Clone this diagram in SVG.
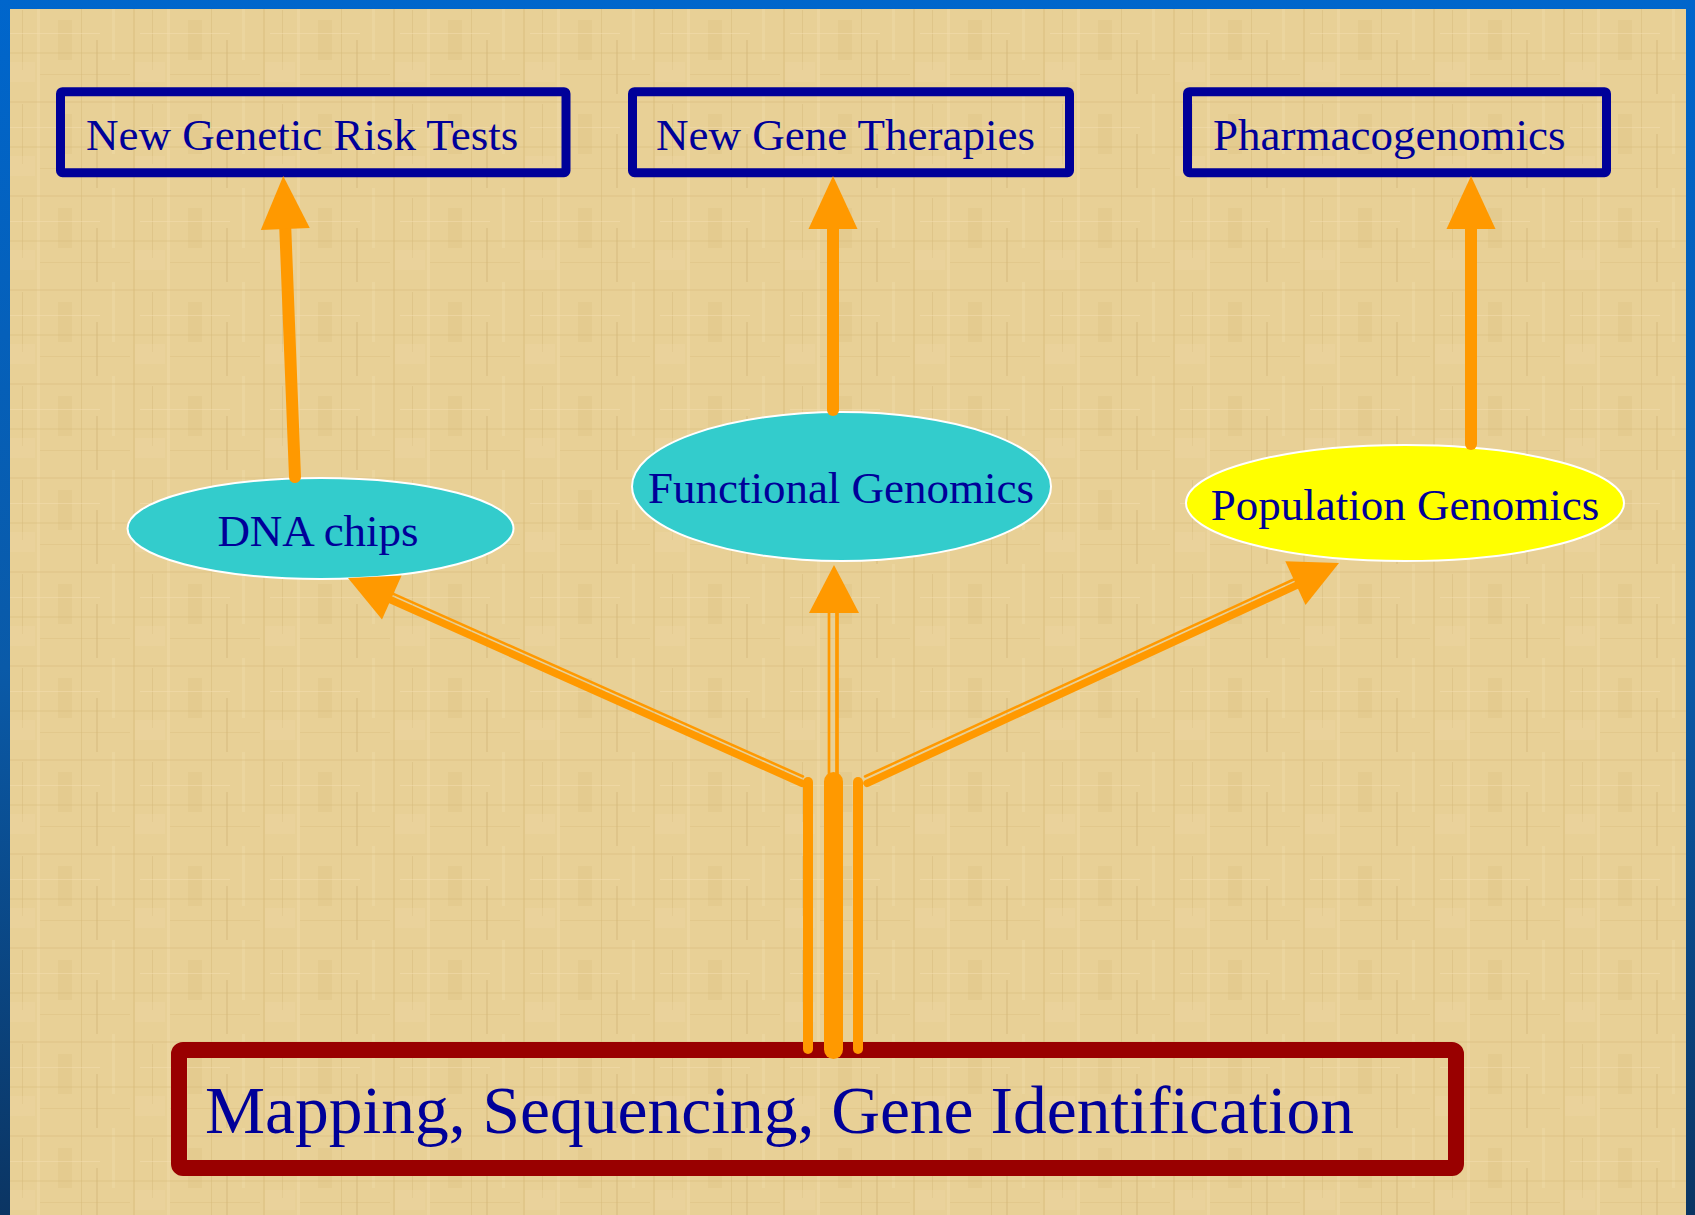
<svg xmlns="http://www.w3.org/2000/svg" width="1695" height="1215" viewBox="0 0 1695 1215">
  <defs>
    <linearGradient id="edge" x1="0" y1="0" x2="0" y2="1">
      <stop offset="0" stop-color="#0066cc"/>
      <stop offset="0.55" stop-color="#0a5aa8"/>
      <stop offset="1" stop-color="#0b3563"/>
    </linearGradient>
    <pattern id="weave" width="130" height="94" patternUnits="userSpaceOnUse">
      <rect width="130" height="94" fill="#e8d096"/>
      <rect x="3" y="0" width="2" height="94" fill="#d6b878" opacity="0.4"/>
      <rect x="22" y="10" width="1" height="60" fill="#cfb070" opacity="0.35"/>
      <rect x="37" y="0" width="3" height="94" fill="#f2dcaa" opacity="0.45"/>
      <rect x="58" y="20" width="14" height="40" fill="#d9bc7d" opacity="0.25"/>
      <rect x="81" y="0" width="1" height="94" fill="#d2b473" opacity="0.4"/>
      <rect x="96" y="40" width="2" height="54" fill="#cdb071" opacity="0.35"/>
      <rect x="112" y="0" width="3" height="60" fill="#f1dba9" opacity="0.45"/>
      <rect x="0" y="7" width="130" height="2" fill="#d8bb7c" opacity="0.3"/>
      <rect x="10" y="33" width="90" height="1" fill="#f3deaf" opacity="0.5"/>
      <rect x="0" y="52" width="130" height="2" fill="#d4b676" opacity="0.25"/>
      <rect x="40" y="74" width="90" height="1" fill="#d4b676" opacity="0.3"/>
      <rect x="5" y="62" width="30" height="20" fill="#f0d9a5" opacity="0.3"/>
    </pattern>
    <marker id="head" markerUnits="userSpaceOnUse" markerWidth="54" markerHeight="50" refX="0" refY="24.5" orient="auto" overflow="visible">
      <path d="M0,0 L53,24.5 L0,49 Z" fill="#ff9900"/>
    </marker>
  </defs>
  <style>
    .box { fill: none; stroke: #000099; stroke-width: 9; stroke-linejoin: round; }
    .lbl { font-family: "Liberation Serif", "Times New Roman", serif; font-size: 45px; fill: #000099; }
    .ell { stroke: #ffffff; stroke-width: 2; }
    .up { stroke: #ff9900; stroke-width: 12; stroke-linecap: round; fill: none; }
    .or { stroke: #ff9900; fill: none; stroke-linecap: round; }
    .hd { fill: #ff9900; }
  </style>

  <!-- background -->
  <rect x="0" y="0" width="1695" height="1215" fill="url(#edge)"/>
  <rect x="10" y="9" width="1676" height="1206" fill="url(#weave)"/>

  <g id="n-risk-tests">
    <rect class="box" x="60.5" y="91.7" width="505.5" height="81" rx="2"/>
    <text class="lbl" x="86" y="150">New Genetic Risk Tests</text>
  </g>
  <g id="n-gene-therapies">
    <rect class="box" x="632.5" y="91.7" width="437" height="81" rx="2"/>
    <text class="lbl" x="656" y="150">New Gene Therapies</text>
  </g>
  <g id="n-pharmacogenomics">
    <rect class="box" x="1187.5" y="91.7" width="419" height="81" rx="2"/>
    <text class="lbl" x="1213" y="150">Pharmacogenomics</text>
  </g>

  <g id="n-dna-chips">
    <ellipse class="ell" cx="320.5" cy="528.5" rx="193" ry="50.5" fill="#33cccc"/>
    <text class="lbl" x="318" y="546" text-anchor="middle">DNA chips</text>
  </g>
  <g id="n-functional-genomics">
    <ellipse class="ell" cx="841.5" cy="486.5" rx="209.5" ry="74.5" fill="#33cccc"/>
    <text class="lbl" x="841" y="503" text-anchor="middle">Functional Genomics</text>
  </g>
  <g id="n-population-genomics">
    <ellipse class="ell" cx="1405" cy="503" rx="219" ry="58" fill="#ffff00"/>
    <text class="lbl" x="1405" y="520" text-anchor="middle">Population Genomics</text>
  </g>

  <g id="n-mapping">
    <rect x="179" y="1050" width="1277" height="118" rx="4" fill="none" stroke="#990000" stroke-width="16"/>
    <text x="205" y="1133" font-family="Liberation Serif, Times New Roman, serif" font-size="67.5" fill="#000099">Mapping, Sequencing, Gene Identification</text>
  </g>

  <g id="connectors">
    <!-- ellipses to top boxes -->
    <line class="up" x1="295" y1="477" x2="285.3" y2="229" marker-end="url(#head)"/>
    <line class="up" x1="833" y1="410" x2="833" y2="229" marker-end="url(#head)"/>
    <line class="up" x1="1471" y1="444" x2="1471" y2="229" marker-end="url(#head)"/>

    <!-- trunk -->
    <line class="or" x1="833.5" y1="781.5" x2="833.5" y2="1049.5" stroke-width="19"/>
    <line class="or" x1="808" y1="782" x2="808" y2="1049" stroke-width="10"/>
    <line class="or" x1="858" y1="782" x2="858" y2="1049" stroke-width="10"/>

    <!-- to DNA chips -->
    <line class="or" x1="802" y1="783.3" x2="390.8" y2="599.8" stroke-width="7.5"/>
    <line class="or" x1="803" y1="776.5" x2="393.4" y2="593.8" stroke-width="2.5" stroke-linecap="butt"/>
    <polygon class="hd" points="348,578 401.6,575.6 382,619.4"/>

    <!-- to Functional Genomics -->
    <line class="or" x1="829" y1="775" x2="829" y2="612" stroke-width="2.7" stroke-linecap="butt"/>
    <line class="or" x1="837" y1="775" x2="837" y2="612" stroke-width="3.7" stroke-linecap="butt"/>
    <polygon class="hd" points="834,565 859,613 809,613"/>

    <!-- to Population Genomics -->
    <line class="or" x1="867" y1="783.3" x2="1296.4" y2="585.4" stroke-width="7.5"/>
    <line class="or" x1="865" y1="776.5" x2="1293.7" y2="579.5" stroke-width="2.5" stroke-linecap="butt"/>
    <polygon class="hd" points="1339,563 1285.3,561.3 1305.5,604.9"/>
  </g>
</svg>
